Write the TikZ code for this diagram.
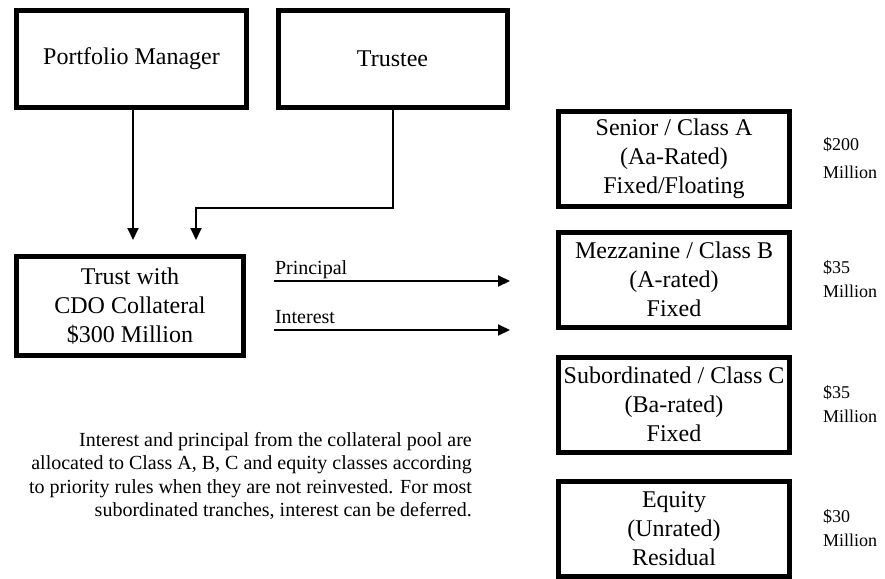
\documentclass[tikz,border=0pt]{standalone}
\usepackage{fontspec}
\setmainfont{Liberation Serif}
\usetikzlibrary{arrows.meta,positioning}

\begin{document}
\begin{tikzpicture}[x=1pt,y=-1pt,
  box/.style={draw,line width=5pt,minimum width=230pt,minimum height=97pt,align=center,inner sep=0pt,font=\fontsize{24}{29}\selectfont},
  tranche/.style={box,minimum width=231pt,minimum height=95pt},
  amount/.style={right=31pt of #1,inner sep=0pt,align=left,font=\fontsize{18}{24}\selectfont},
  flowlabel/.style={anchor=base west,yshift=7pt,inner sep=0pt,font=\fontsize{20}{23}\selectfont},
  flow/.style={line width=2pt,-{Triangle[length=12pt,width=11pt]}}]
\useasboundingbox (0,0) rectangle (885,578);

\node[box] (pm) at (131.5,59) {Portfolio Manager};
\node[box,minimum width=229pt] (trustee) at (392.5,59) {Trustee};
\node[box,minimum width=227pt,minimum height=99pt] (trust) at (130,306) {Trust with\\CDO Collateral\\\$300 Million};

\node[tranche] (senior) at (674,158.5) {Senior / Class A\\(Aa-Rated)\\Fixed/Floating};
\node[tranche] (mezz) at (674,279.5) {Mezzanine / Class B\\(A-rated)\\Fixed};
\node[tranche] (sub) at (674,404.5) {Subordinated / Class C\\(Ba-rated)\\Fixed};
\node[tranche] (equity) at (674,528.5) {Equity\\(Unrated)\\Residual};

\node[amount=senior] (amtA) {\$200\\[4pt]Million};
\node[amount=mezz] (amtB) {\$35\\Million};
\node[amount=sub] (amtC) {\$35\\Million};
\node[amount=equity] (amtE) {\$30\\Million};

% managers feed the trust
\coordinate (pmtip) at (133,240);
\coordinate (trbend) at (196,208);
\coordinate (trtip) at (196,240);
\draw[flow] (pm.south -| pmtip) -- (pmtip);
\draw[flow] (trustee.south) |- (trbend) -- (trtip);

% cash flows to the tranches
\coordinate (pstart) at (274,281);
\coordinate (pend) at (510,281);
\coordinate (istart) at (274,330);
\coordinate (iend) at (510,330);
\draw[flow] (pstart) node[flowlabel] (plabel) {Principal} -- (pend);
\draw[flow] (istart) node[flowlabel] (ilabel) {Interest} -- (iend);

\node[anchor=north east,inner sep=0pt,align=right,font=\fontsize{20}{23.5}\selectfont] (note) at (472,432)
  {Interest and principal from the collateral pool are\\
   allocated to Class A, B, C and equity classes according\\
   to priority rules when they are not reinvested. For most\\
   subordinated tranches, interest can be deferred.};
\end{tikzpicture}
\end{document}
